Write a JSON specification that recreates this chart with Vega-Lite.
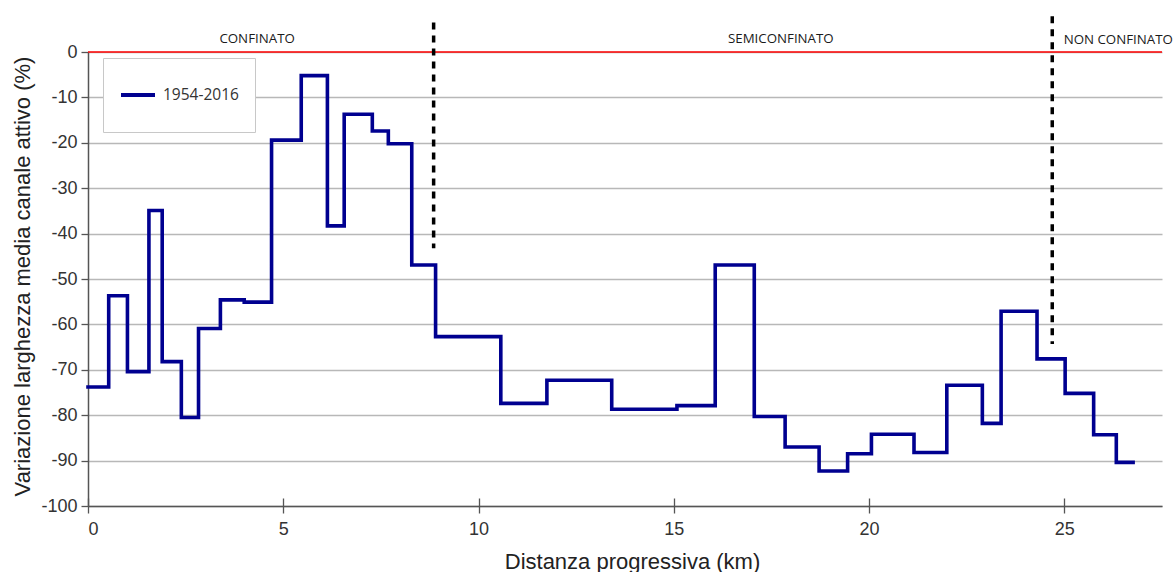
{
  "$schema": "https://vega.github.io/schema/vega-lite/v6.json",
  "autosize": {"type": "none"},
  "padding": {"left": 88, "top": 52, "right": 12, "bottom": 66},
  "width": 1074,
  "height": 454,
  "background": "white",
  "config": {
    "view": {"stroke": null},
    "font": "Liberation Sans",
    "axis": {"labelFont": "Liberation Sans", "titleFont": "Liberation Sans", "titleFontWeight": "normal"}
  },
  "datasets": {
    "steps": [
      {"km": 0, "var": -73.8},
      {"km": 0.53, "var": -53.7},
      {"km": 1.01, "var": -70.4},
      {"km": 1.56, "var": -34.9},
      {"km": 1.9, "var": -68.2},
      {"km": 2.39, "var": -80.5},
      {"km": 2.83, "var": -60.9},
      {"km": 3.39, "var": -54.6},
      {"km": 4.0, "var": -55.1},
      {"km": 4.7, "var": -19.4},
      {"km": 5.46, "var": -5.2},
      {"km": 6.13, "var": -38.3},
      {"km": 6.56, "var": -13.7},
      {"km": 7.28, "var": -17.4},
      {"km": 7.69, "var": -20.2},
      {"km": 8.29, "var": -46.9},
      {"km": 8.9, "var": -62.7},
      {"km": 10.57, "var": -77.4},
      {"km": 11.75, "var": -72.3},
      {"km": 13.41, "var": -78.7},
      {"km": 15.08, "var": -77.9},
      {"km": 16.06, "var": -46.9},
      {"km": 17.06, "var": -80.3},
      {"km": 17.85, "var": -87.0},
      {"km": 18.72, "var": -92.3},
      {"km": 19.45, "var": -88.5},
      {"km": 20.06, "var": -84.2},
      {"km": 21.15, "var": -88.2},
      {"km": 21.99, "var": -73.4},
      {"km": 22.9, "var": -81.8},
      {"km": 23.38, "var": -57.1},
      {"km": 24.3, "var": -67.6},
      {"km": 25.02, "var": -75.2},
      {"km": 25.75, "var": -84.3},
      {"km": 26.33, "var": -90.4},
      {"km": 26.76, "var": -90.4}
    ],
    "bounds": [
      {"km": 8.85, "top": 6.5, "bottom": -43.2},
      {"km": 24.69, "top": 7.9, "bottom": -64.3}
    ],
    "zones": [
      {"km": 4.33, "pos": 2.9, "label": "CONFINATO"},
      {"km": 17.74, "pos": 2.9, "label": "SEMICONFINATO"},
      {"km": 26.38, "pos": 2.7, "label": "NON CONFINATO"}
    ]
  },
  "resolve": {"axis": {"x": "independent"}},
  "layer": [
    {
      "data": {"values": [{"v": 0}]},
      "mark": {"type": "rule", "color": "#ff0000", "strokeWidth": 1.3},
      "encoding": {
        "y": {"field": "v", "type": "quantitative", "scale": {"domain": [-100, 0], "nice": false, "zero": false},
          "axis": {
            "values": [-100, -90, -80, -70, -60, -50, -40, -30, -20, -10, 0],
            "labelExpr": "'' + datum.value",
            "grid": true, "gridColor": "#b8b8b8", "gridWidth": 1.3,
            "domainColor": "#555555", "domainWidth": 1.5,
            "tickColor": "#555555", "tickSize": 7, "tickWidth": 1.3,
            "labelFontSize": 18, "labelColor": "#333333", "labelPadding": 4,
            "title": "Variazione larghezza media canale attivo (%)",
            "titleFontSize": 22, "titleColor": "#222222",
            "titleAngle": -90, "titleX": -66, "titleY": 224, "titleAlign": "center", "titleBaseline": "middle"
          }}
      }
    },
    {
      "data": {"name": "steps"},
      "mark": {"type": "line", "interpolate": "step-after", "strokeWidth": 3.6, "strokeJoin": "miter", "strokeCap": "square"},
      "encoding": {
        "x": {"field": "km", "type": "quantitative", "scale": {"domain": [0, 27.5], "nice": false, "zero": false},
          "axis": {
            "orient": "bottom",
            "values": [0, 5, 10, 15, 20, 25],
            "grid": false,
            "domainColor": "#555555", "domainWidth": 1.5,
            "tickColor": "#555555", "tickSize": 7, "tickWidth": 1.3,
            "labelFontSize": 18, "labelColor": "#333333", "labelPadding": 7,
            "title": "Distanza progressiva (km)",
            "titleFontSize": 22, "titleColor": "#222222",
            "titleX": 544, "titleY": 62, "titleAlign": "center", "titleBaseline": "alphabetic"
          }},
        "y": {"field": "var", "type": "quantitative"},
        "color": {"datum": "1954-2016", "type": "nominal",
          "scale": {"domain": ["1954-2016"], "range": ["#000090"]},
          "legend": {
            "orient": "none", "legendX": 15, "legendY": 6, "title": null,
            "padding": 16, "strokeColor": "#c8c8c8", "fillColor": "white",
            "symbolType": "stroke", "symbolSize": 1156, "symbolStrokeWidth": 4,
            "labelFont": "Open Sans", "labelFontSize": 15.5, "labelColor": "#333333", "labelOffset": 6,
            "clipHeight": 42
          }}
      }
    },
    {
      "data": {"name": "bounds"},
      "mark": {"type": "rule", "color": "#000000", "strokeWidth": 3.5, "strokeDash": [7, 6], "clip": false},
      "encoding": {
        "x": {"field": "km", "type": "quantitative", "axis": null},
        "y": {"field": "top", "type": "quantitative"},
        "y2": {"field": "bottom"}
      }
    },
    {
      "data": {"name": "zones"},
      "mark": {"type": "text", "font": "Open Sans", "fontSize": 13.3, "color": "#1a1a1a", "baseline": "middle", "align": "center", "clip": false},
      "encoding": {
        "x": {"field": "km", "type": "quantitative",
          "axis": {
            "orient": "bottom",
            "values": [0, 5, 10, 15, 20, 25],
            "labels": false, "domain": false, "grid": false, "title": null,
            "tickColor": "#555555", "tickSize": -8, "tickWidth": 1.3
          }},
        "y": {"field": "pos", "type": "quantitative"},
        "text": {"field": "label"}
      }
    }
  ]
}
